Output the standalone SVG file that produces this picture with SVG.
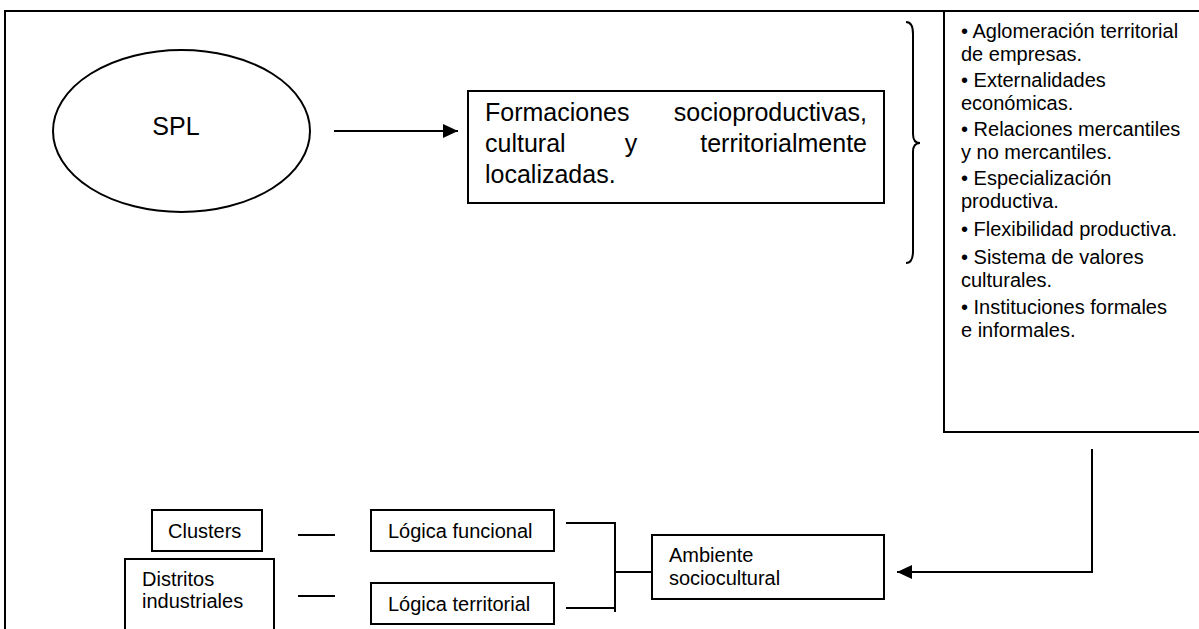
<svg xmlns="http://www.w3.org/2000/svg" width="1199" height="629" viewBox="0 0 1199 629">
  <style>
    .box { fill: #fff; stroke: #000; stroke-width: 2; }
    .ln { fill: none; stroke: #000; stroke-width: 2; }
    .t20 { font-family: "Liberation Sans", Arial, sans-serif; font-size: 20px; fill: #000; }
    .t25 { font-family: "Liberation Sans", Arial, sans-serif; font-size: 25px; fill: #000; }
  </style>
  <defs>
    <marker id="arrow" viewBox="0 0 15 14" refX="15" refY="7" markerWidth="15" markerHeight="14" markerUnits="userSpaceOnUse" orient="auto">
      <path d="M0,0 L15,7 L0,14 Z" fill="#000"/>
    </marker>
  </defs>

  <rect width="1199" height="629" fill="#fff"/>

  <!-- outer frame, open to the right and bottom -->
  <path class="ln" d="M5,640 L5,11 L1210,11"/>

  <g id="spl">
    <ellipse class="box" cx="181.5" cy="131" rx="128.5" ry="81" stroke-width="1.8"/>
    <text class="t25" x="176" y="135" text-anchor="middle">SPL</text>
  </g>

  <g id="formaciones">
    <rect class="box" x="468" y="91" width="416" height="112"/>
    <text class="t25" x="485" y="121">Formaciones</text>
    <text class="t25" x="867" y="121" text-anchor="end">socioproductivas,</text>
    <text class="t25" x="485" y="152">cultural</text>
    <text class="t25" x="631" y="152" text-anchor="middle">y</text>
    <text class="t25" x="867" y="152" text-anchor="end">territorialmente</text>
    <text class="t25" x="485" y="183">localizadas.</text>
  </g>

  <g id="brace">
    <path class="ln" stroke-width="1.6" d="M906,22 Q913,22 913,34 L913,134 Q913,143 920,143 Q913,143 913,152 L913,251 Q913,263 906,263"/>
  </g>

  <g id="rasgos">
    <rect class="box" x="944" y="11" width="300" height="421"/>
    <text class="t20" x="961" y="38">• Aglomeración territorial</text>
    <text class="t20" x="961" y="61">de empresas.</text>
    <text class="t20" x="961" y="87">• Externalidades</text>
    <text class="t20" x="961" y="110">económicas.</text>
    <text class="t20" x="961" y="136">• Relaciones mercantiles</text>
    <text class="t20" x="961" y="159">y no mercantiles.</text>
    <text class="t20" x="961" y="185">• Especialización</text>
    <text class="t20" x="961" y="208">productiva.</text>
    <text class="t20" x="961" y="236">• Flexibilidad productiva.</text>
    <text class="t20" x="961" y="264">• Sistema de valores</text>
    <text class="t20" x="961" y="287">culturales.</text>
    <text class="t20" x="961" y="314">• Instituciones formales</text>
    <text class="t20" x="961" y="337">e informales.</text>
  </g>

  <g id="clusters">
    <rect class="box" x="152" y="510" width="110" height="41"/>
    <text class="t20" x="168" y="538">Clusters</text>
  </g>

  <g id="distritos">
    <rect class="box" x="125" y="559" width="149" height="80"/>
    <text class="t20" x="142" y="586">Distritos</text>
    <text class="t20" x="142" y="608">industriales</text>
  </g>

  <g id="logica-funcional">
    <rect class="box" x="371" y="510" width="183" height="41"/>
    <text class="t20" x="388" y="538">Lógica funcional</text>
  </g>

  <g id="logica-territorial">
    <rect class="box" x="371" y="583" width="183" height="41"/>
    <text class="t20" x="388" y="611">Lógica territorial</text>
  </g>

  <g id="ambiente">
    <rect class="box" x="652" y="535" width="232" height="64"/>
    <text class="t20" x="669" y="562">Ambiente</text>
    <text class="t20" x="669" y="585">sociocultural</text>
  </g>

  <g id="connectors">
    <line class="ln" x1="334" y1="131" x2="458" y2="131" marker-end="url(#arrow)"/>
    <line class="ln" x1="298" y1="535" x2="335" y2="535"/>
    <line class="ln" x1="298" y1="596" x2="335" y2="596"/>
    <path class="ln" d="M566,523 L615,523 L615,612 M566,608 L615,608 M615,572 L652,572"/>
    <path class="ln" d="M1092,449 L1092,572 L897,572" marker-end="url(#arrow)"/>
  </g>
</svg>
